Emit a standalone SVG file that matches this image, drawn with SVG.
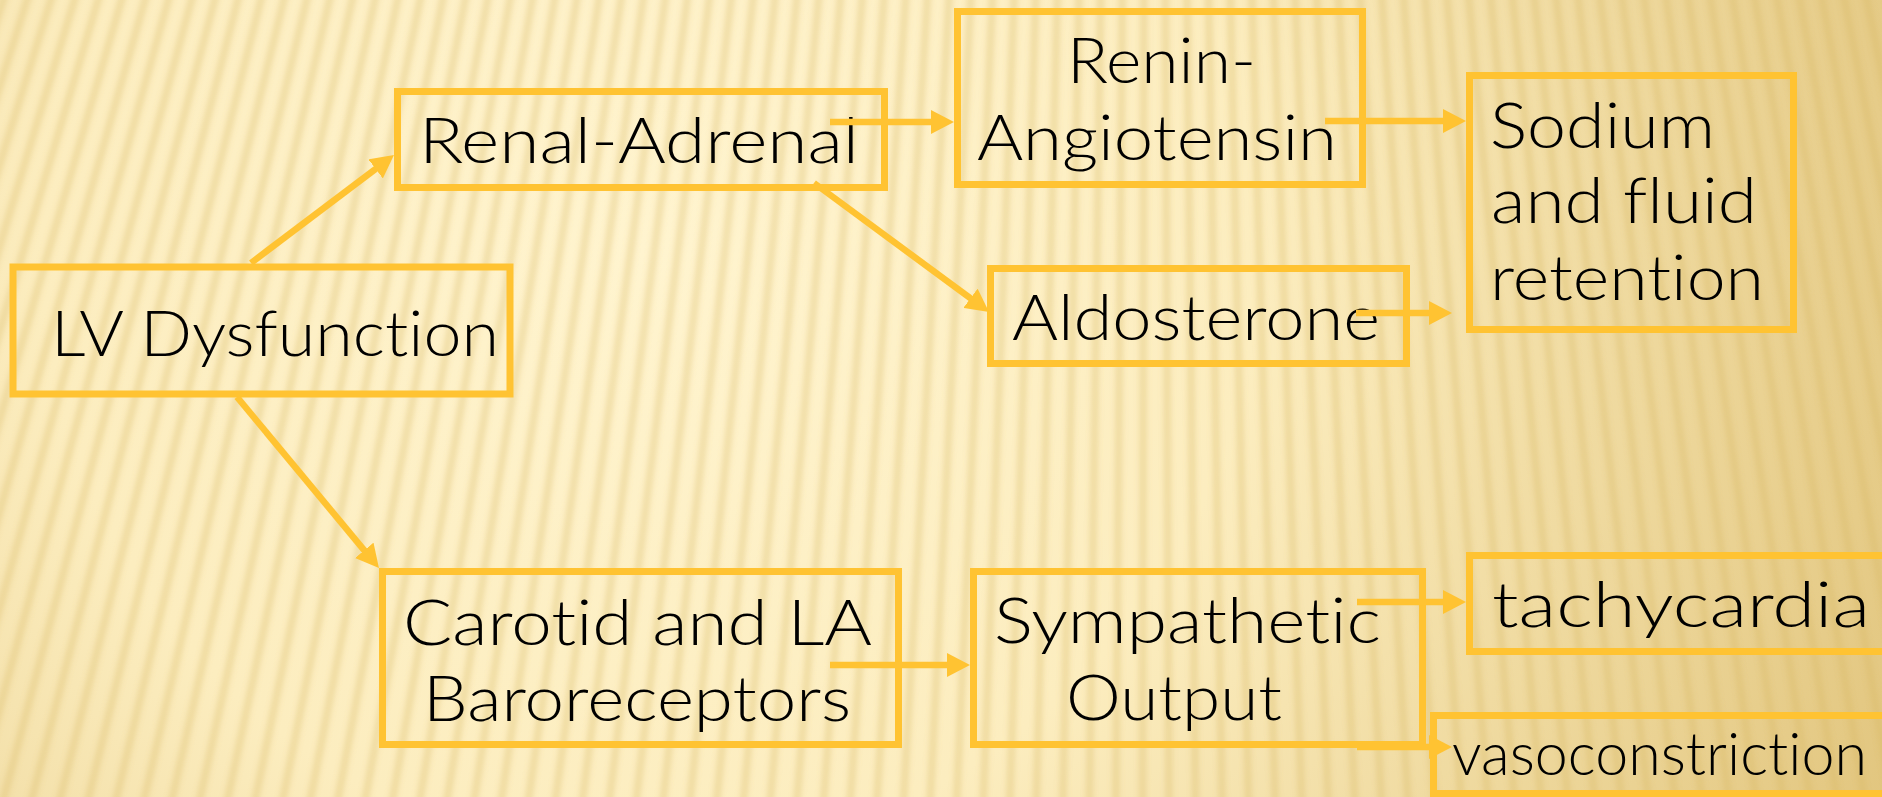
<svg xmlns="http://www.w3.org/2000/svg" width="1882" height="797" viewBox="0 0 1882 797">
<style>
.box{fill:none;stroke:#FFC332;stroke-width:7}
.t{font-family:"Lato","Liberation Sans",Arial,sans-serif;font-weight:300;font-size:64px;fill:#000;font-variant-ligatures:none;font-feature-settings:"liga" 0,"clig" 0}
.c{fill:none;stroke:#FFC332;stroke-width:6.5;marker-end:url(#ah)}
.stripes{stroke:#D6B560;stroke-opacity:0.3;stroke-width:8;fill:none}
</style>
<defs>
<radialGradient id="bg" gradientUnits="userSpaceOnUse" cx="650" cy="250" r="1350">
<stop offset="0" stop-color="#FFF4CF"/>
<stop offset="0.45" stop-color="#FCEDBF"/>
<stop offset="1" stop-color="#E2C67F"/>
</radialGradient>
<filter id="soft" x="-0.1" y="-0.1" width="1.2" height="1.2"><feGaussianBlur stdDeviation="2.5"/></filter>
<line id="s0" x1="1150" y1="-100" x2="1150" y2="1300"/>
<g id="s1"><use href="#s0"/><use href="#s0" transform="rotate(0.35 1150 -3540)"/></g>
<g id="s2"><use href="#s1"/><use href="#s1" transform="rotate(0.7 1150 -3540)"/></g>
<g id="s3"><use href="#s2"/><use href="#s2" transform="rotate(1.4 1150 -3540)"/></g>
<g id="s4"><use href="#s3"/><use href="#s3" transform="rotate(2.8 1150 -3540)"/></g>
<g id="s5"><use href="#s4"/><use href="#s4" transform="rotate(5.6 1150 -3540)"/></g>
<g id="s6"><use href="#s5"/><use href="#s5" transform="rotate(11.2 1150 -3540)"/></g>
<g id="s7"><use href="#s6"/><use href="#s6" transform="rotate(22.4 1150 -3540)"/></g>
<marker id="ah" markerUnits="userSpaceOnUse" markerWidth="24" markerHeight="24" refX="1" refY="12" orient="auto" viewBox="0 0 24 24"><path d="M0,0 L23,12 L0,24 z" fill="#FFC332"/></marker>
</defs>
<g id="background">
<rect x="0" y="0" width="1882" height="797" fill="url(#bg)"/>
<g class="stripes" filter="url(#soft)"><use href="#s7" transform="rotate(-12.5 1150 -3540)"/></g>
</g>
<g id="lv">
<rect class="box" x="13" y="267" width="497" height="127"/>
<text class="t" x="51" y="356" textLength="448" lengthAdjust="spacingAndGlyphs">LV Dysfunction</text>
</g>
<g id="renal">
<rect class="box" x="397.5" y="91.5" width="487" height="96"/>
<text class="t" x="419" y="163" textLength="440" lengthAdjust="spacingAndGlyphs">Renal-Adrenal</text>
</g>
<g id="renin">
<rect class="box" x="957.5" y="11.5" width="405" height="173"/>
<text class="t" x="1067" y="83" textLength="189" lengthAdjust="spacingAndGlyphs">Renin-</text>
<text class="t" x="977" y="160" textLength="360" lengthAdjust="spacingAndGlyphs">Angiotensin</text>
</g>
<g id="aldosterone">
<rect class="box" x="990.5" y="268.5" width="416" height="95"/>
<text class="t" x="1012" y="340" textLength="368" lengthAdjust="spacingAndGlyphs">Aldosterone</text>
</g>
<g id="sodium">
<rect class="box" x="1469.5" y="75.5" width="324" height="254"/>
<text class="t" x="1490" y="148" textLength="225" lengthAdjust="spacingAndGlyphs">Sodium</text>
<text class="t" x="1491" y="223" textLength="266" lengthAdjust="spacingAndGlyphs">and fluid</text>
<text class="t" x="1490" y="300" textLength="274" lengthAdjust="spacingAndGlyphs">retention</text>
</g>
<g id="carotid">
<rect class="box" x="382.5" y="571.5" width="516" height="173"/>
<text class="t" x="403" y="645" textLength="469" lengthAdjust="spacingAndGlyphs">Carotid and LA</text>
<text class="t" x="423" y="721" textLength="428" lengthAdjust="spacingAndGlyphs">Baroreceptors</text>
</g>
<g id="sympathetic">
<rect class="box" x="973.5" y="571.5" width="449" height="173"/>
<text class="t" x="994" y="643" textLength="387" lengthAdjust="spacingAndGlyphs">Sympathetic</text>
<text class="t" x="1066" y="720" textLength="216" lengthAdjust="spacingAndGlyphs">Output</text>
</g>
<g id="tachycardia">
<rect class="box" x="1469.5" y="555.5" width="440" height="96"/>
<text class="t" x="1492" y="627" textLength="378" lengthAdjust="spacingAndGlyphs">tachycardia</text>
</g>
<g id="vasoconstriction">
<rect class="box" x="1433.5" y="715.5" width="480" height="78"/>
<text class="t" x="1452" y="775" style="font-size:60px" textLength="415" lengthAdjust="spacingAndGlyphs">vasoconstriction</text>
</g>
<g id="connectors">
<line class="c" x1="251" y1="263" x2="376.4" y2="168.3"/>
<line class="c" x1="237" y1="397" x2="364.9" y2="551.1"/>
<line class="c" x1="830" y1="122" x2="932" y2="122"/>
<line class="c" x1="814" y1="183" x2="971.3" y2="298.9"/>
<line class="c" x1="1325" y1="121" x2="1444" y2="121"/>
<line class="c" x1="1356" y1="313" x2="1430" y2="313"/>
<line class="c" x1="830" y1="665" x2="948" y2="665"/>
<line class="c" x1="1357" y1="602" x2="1444" y2="602"/>
<line class="c" x1="1357" y1="747" x2="1430" y2="747"/>
</g>
</svg>
